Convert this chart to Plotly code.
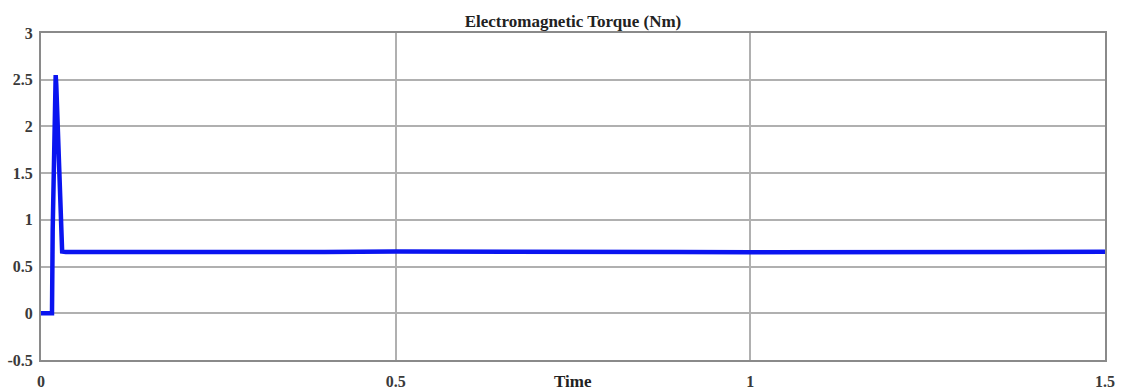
import plotly.graph_objects as go

# Data
time_s = [0.0, 0.0155, 0.0165, 0.0185, 0.0200, 0.0207, 0.0215, 0.0235, 0.0262, 0.0285, 0.0298,
          0.0350, 0.2, 0.4, 0.5, 0.7, 0.9, 1.0, 1.2, 1.3, 1.4, 1.5]
torque_nm = [0.0, 0.0, 0.9, 2.0, 2.5, 2.55, 2.45, 2.0, 1.5, 1.0, 0.66,
             0.655, 0.652, 0.655, 0.660, 0.652, 0.655, 0.652, 0.655, 0.660, 0.655, 0.658]

x_ticks = [0, 0.5, 1, 1.5]
x_tick_labels = ["0", "0.5", "1", "1.5"]
y_ticks = [-0.5, 0, 0.5, 1, 1.5, 2, 2.5, 3]
y_tick_labels = ["-0.5", "0", "0.5", "1", "1.5", "2", "2.5", "3"]

font_family = "Liberation Serif"
grid_col = "#b0b0b0"
text_col = "#3a3a3a"

fig = go.Figure()
fig.add_trace(go.Scatter(x=time_s, y=torque_nm, mode="lines",
                         line=dict(color="#0a14f0", width=4.5),
                         showlegend=False))

fig.update_layout(
    width=1123, height=392,
    margin=dict(l=41, r=18, t=33, b=32, autoexpand=False),
    paper_bgcolor="white", plot_bgcolor="white",
    font=dict(family=font_family, size=16, color=text_col),
    title=dict(text="<b>Electromagnetic Torque (Nm)</b>", x=0.5, xanchor="center",
               xref="paper", y=1 - 21 / 392, yanchor="middle",
               font=dict(family=font_family, size=17, color="#222222")),
    annotations=[dict(text="<b>Time</b>", xref="paper", yref="paper", x=0.5, y=-21 / 327,
                      xanchor="center", yanchor="middle", showarrow=False,
                      font=dict(family=font_family, size=17, color="#222222"))],
)
fig.update_xaxes(range=[0, 1.5], tickvals=x_ticks,
                 ticktext=["<b>" + t + "</b>" for t in x_tick_labels],
                 automargin=False,
                 showgrid=True, gridcolor=grid_col, gridwidth=1.5,
                 showline=True, linecolor="#8a8a8a", linewidth=2, mirror=True,
                 ticks="", zeroline=False, ticklabelstandoff=6,
                 tickfont=dict(family=font_family, size=16, color=text_col))
fig.update_yaxes(range=[-0.5, 3], tickvals=y_ticks,
                 ticktext=["<b>" + t + "</b>" for t in y_tick_labels],
                 automargin=False,
                 showgrid=True, gridcolor=grid_col, gridwidth=1.5,
                 showline=True, linecolor="#8a8a8a", linewidth=2, mirror=True,
                 ticks="", zeroline=False, ticklabelstandoff=3,
                 tickfont=dict(family=font_family, size=16, color=text_col))

fig.write_html("out.html")
